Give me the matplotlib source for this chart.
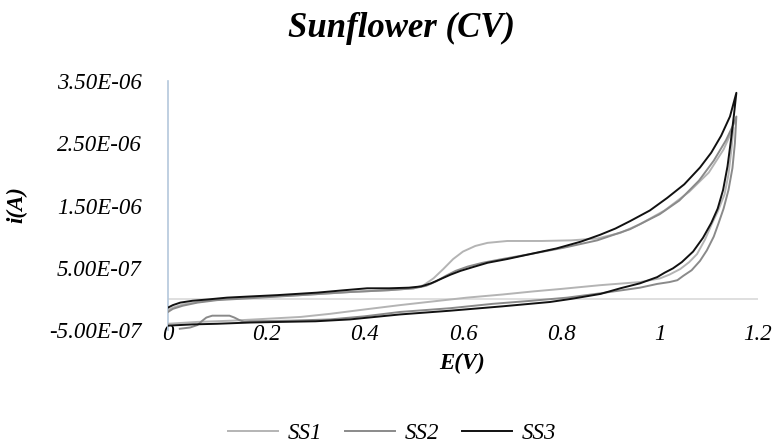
import numpy as np
import matplotlib
matplotlib.use("Agg")
import matplotlib.pyplot as plt
from matplotlib.ticker import FuncFormatter

plt.rcParams['font.family'] = ['Liberation Serif', 'DejaVu Serif']
plt.rcParams['font.style'] = 'italic'

# potential (V) and current (uA); anodic sweep then cathodic sweep
ss1_e = [0.000, 0.010, 0.030, 0.060, 0.100, 0.167, 0.270, 0.370, 0.450, 0.500, 0.520,
         0.540, 0.560, 0.580, 0.600, 0.625, 0.650, 0.690, 0.760, 0.820, 0.873, 0.920,
         0.960, 1.010, 1.060, 1.100, 1.130, 1.150,
         1.146, 1.140, 1.132, 1.118, 1.107, 1.092, 1.076, 1.060, 1.042, 1.020,
         1.001, 0.960, 0.879, 0.800, 0.743, 0.680, 0.608, 0.540, 0.472, 0.400, 0.330,
         0.270, 0.200, 0.130, 0.060, 0.000]
ss1_i = [-0.18, -0.14, -0.09, -0.05, -0.01, 0.02, 0.06, 0.11, 0.14, 0.17, 0.22,
         0.33, 0.48, 0.64, 0.76, 0.85, 0.90, 0.93, 0.93, 0.94, 0.97, 1.06,
         1.20, 1.42, 1.72, 2.03, 2.40, 2.75,
         2.40, 2.00, 1.68, 1.40, 1.22, 0.95, 0.72, 0.59, 0.48, 0.39,
         0.33, 0.27, 0.22, 0.16, 0.12, 0.07, 0.02, -0.04, -0.10, -0.17, -0.24,
         -0.29, -0.32, -0.35, -0.37, -0.40]

ss2_e = [0.000, 0.010, 0.030, 0.060, 0.100, 0.167, 0.270, 0.370, 0.450, 0.500, 0.525,
         0.545, 0.565, 0.585, 0.610, 0.640, 0.680, 0.737, 0.804, 0.873, 0.940, 1.000,
         1.040, 1.080, 1.110, 1.135, 1.150, 1.156,
         1.153, 1.148, 1.140, 1.130, 1.120, 1.110, 1.096, 1.082, 1.065, 1.048, 1.036,
         1.020, 0.995, 0.960, 0.880, 0.812, 0.740, 0.660, 0.574, 0.472, 0.400, 0.330,
         0.250, 0.167, 0.155, 0.145, 0.135, 0.125, 0.090, 0.078, 0.070, 0.060, 0.045,
         0.024]
ss2_i = [-0.21, -0.16, -0.11, -0.06, -0.02, 0.01, 0.06, 0.11, 0.14, 0.17, 0.21,
         0.28, 0.37, 0.45, 0.52, 0.58, 0.64, 0.72, 0.82, 0.94, 1.12, 1.36,
         1.58, 1.90, 2.22, 2.55, 2.80, 2.93,
         2.50, 2.10, 1.75, 1.45, 1.22, 1.00, 0.78, 0.61, 0.46, 0.37, 0.30,
         0.27, 0.24, 0.18, 0.09, 0.02, -0.03, -0.08, -0.15, -0.21, -0.28, -0.33,
         -0.35, -0.36, -0.37, -0.34, -0.30, -0.27, -0.27, -0.30, -0.35, -0.42, -0.46,
         -0.48]

ss3_e = [0.000, 0.010, 0.025, 0.050, 0.080, 0.120, 0.170, 0.222, 0.303, 0.360, 0.405,
         0.450, 0.490, 0.515, 0.535, 0.555, 0.575, 0.595, 0.620, 0.650, 0.690, 0.737,
         0.790, 0.840, 0.879, 0.910, 0.940, 0.980, 1.015, 1.050, 1.082, 1.105, 1.125,
         1.143, 1.156,
         1.151, 1.145, 1.138, 1.129, 1.118, 1.105, 1.088, 1.068, 1.045, 1.027, 1.010,
         0.995, 0.960, 0.920, 0.880, 0.820, 0.777, 0.680, 0.574, 0.472, 0.370, 0.300,
         0.230, 0.167, 0.100, 0.050, 0.000]
ss3_i = [-0.14, -0.10, -0.06, -0.03, -0.01, 0.02, 0.04, 0.06, 0.10, 0.14, 0.17,
         0.17, 0.18, 0.20, 0.25, 0.32, 0.39, 0.45, 0.51, 0.58, 0.64, 0.72,
         0.81, 0.92, 1.03, 1.13, 1.25, 1.42, 1.62, 1.84, 2.11, 2.35, 2.62,
         2.93, 3.31,
         2.95, 2.55, 2.13, 1.75, 1.45, 1.22, 0.98, 0.76, 0.59, 0.49, 0.42,
         0.35, 0.25, 0.17, 0.08, 0.00, -0.05, -0.12, -0.19, -0.25, -0.33, -0.36,
         -0.37, -0.38, -0.40, -0.41, -0.43]

labels = ['SS1', 'SS2', 'SS3']
colors = ['#b4b4b4', '#8a8a8a', '#111111']
x_ticks = [0, 0.2, 0.4, 0.6, 0.8, 1.0, 1.2]
y_ticks = [-5e-7, 5e-7, 1.5e-6, 2.5e-6, 3.5e-6]

fig = plt.figure(figsize=(7.79, 4.45), dpi=100)
ax = fig.add_axes([168 / 779, 1 - 330 / 445, 590 / 779, 249 / 445])

series = [(ss1_e, ss1_i), (ss2_e, ss2_i), (ss3_e, ss3_i)]
for (e, i), lab, c in zip(series, labels, colors):
    ax.plot(e, np.array(i) * 1e-6, color=c, lw=1.4, label=lab, zorder=3,
            solid_joinstyle='round')

ax.set_xlim(0, 1.2)
ax.set_ylim(y_ticks[0], y_ticks[-1])
ax.set_xticks(x_ticks)
ax.set_yticks(y_ticks)
ax.xaxis.set_major_formatter(FuncFormatter(lambda v, p: f"{v:g}"))
ax.yaxis.set_major_formatter(FuncFormatter(lambda v, p: f"{v:.2E}"))
ax.tick_params(axis='both', length=0, labelsize=16.5)
ax.tick_params(axis='y', pad=19)
ax.tick_params(axis='x', pad=-4.5)

for s in ['top', 'right', 'bottom']:
    ax.spines[s].set_visible(False)
ax.spines['left'].set_color('#b4c7dc')
ax.spines['left'].set_linewidth(1.2)
ax.axhline(0, color='#d9d9d9', lw=1.2, zorder=1)

fig.text(402 / 779, 0.935, 'Sunflower (CV)', ha='center', va='center',
         fontsize=25, fontweight='bold')
fig.text(462 / 779, 1 - 363 / 445, 'E(V)', ha='center', va='center',
         fontsize=16.5, fontweight='bold')
fig.text(17 / 779, 1 - 205 / 445, 'i(A)', ha='center', va='center',
         fontsize=16.5, fontweight='bold', rotation=90)

fig.legend(loc='center', bbox_to_anchor=(392 / 779, 1 - 433 / 445), ncol=3,
           frameon=False, fontsize=16.5, handlelength=2.2, handletextpad=0.4,
           columnspacing=1.0)

fig.savefig('out.png', dpi=100)
